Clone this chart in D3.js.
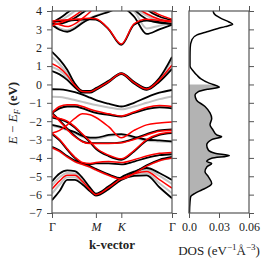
<!DOCTYPE html>
<html>
<head>
<meta charset="utf-8">
<script src="https://cdn.jsdelivr.net/npm/d3@7"></script>
<style>
  body { margin: 0; background: #fff; }
  svg text { font-family: "Liberation Serif", "Times New Roman", serif; fill: #222; }
</style>
</head>
<body>
<svg id="chart" width="274" height="264"></svg>
<script>
// k-path samples (Γ-M-K-Γ, hexagonal path lengths)
var kSamples = [0, 0.1, 0.2, 0.3, 0.4, 0.5, 0.577, 0.744, 0.911, 1.078, 1.244, 1.411, 1.577];
var kTicks = [0, 0.577, 0.911, 1.577];
var kLabels = ["Γ", "M", "K", "Γ"];
var energyTicks = [-7, -6, -5, -4, -3, -2, -1, 0, 1, 2, 3, 4];
var dosTicks = [0, 0.03, 0.06];
var dosTickLabels = ["0.0", "0.03", "0.06"];

// band energies (eV) at kSamples
var grayBands = [
  [3.30, 3.45, 3.70, 4.00, 4.30, 4.60, 4.80, 5.0, 5.0, 5.0, 5.0, 5.0, 5.0],
  [3.28, 3.05, 2.95, 3.12, 3.42, 3.62, 3.75, 4.0, 4.3, 4.0, 3.05, 3.20, 3.35],
  [5.0, 5.0, 5.0, 5.0, 5.0, 5.0, 5.0, 5.0, 5.0, 4.20, 3.75, 3.45, 3.40],
  [1.50, 1.10, 0.60, 0.00, -0.35, -0.38, -0.22, 0.18, 0.60, 0.12, -0.22, 0.30, 1.35],
  [0.95, 0.75, 0.40, -0.10, -0.42, -0.42, -0.27, 0.15, 0.58, 0.08, -0.27, 0.22, 1.00],
  [-0.67, -0.68, -0.75, -0.85, -0.95, -1.05, -1.12, -1.25, -1.35, -1.20, -1.00, -0.80, -0.65],
  [-1.50, -1.25, -1.15, -1.15, -1.25, -1.40, -1.50, -1.62, -1.73, -1.52, -1.30, -1.20, -1.25],
  [-2.25, -2.35, -2.50, -2.65, -2.85, -2.95, -2.95, -2.80, -2.75, -2.90, -3.05, -3.10, -3.15],
  [-3.45, -3.65, -3.95, -4.20, -4.35, -4.50, -4.65, -4.95, -5.12, -4.85, -4.45, -4.15, -4.00],
  [-5.50, -5.05, -4.82, -4.85, -5.20, -5.70, -5.97, -5.58, -5.10, -4.80, -4.65, -4.98, -5.42],
  [-5.95, -5.45, -5.05, -5.05, -5.35, -5.78, -6.02, -5.65, -5.15, -4.90, -4.83, -5.38, -5.92]
];
var blackBands = [
  [3.40, 3.45, 3.47, 3.50, 3.53, 3.55, 3.53, 3.00, 2.15, 3.25, 3.48, 3.40, 3.30],
  [3.25, 2.98, 2.87, 3.05, 3.35, 3.58, 3.72, 3.95, 4.2, 3.70, 2.75, 3.00, 3.25],
  [3.35, 3.60, 3.90, 4.20, 4.50, 4.80, 5.0, 5.0, 5.0, 5.0, 5.0, 5.0, 5.0],
  [3.30, 3.30, 3.42, 3.62, 3.90, 4.20, 4.50, 5.0, 5.0, 5.0, 5.0, 5.0, 5.0],
  [5.0, 5.0, 5.0, 5.0, 5.0, 5.0, 5.0, 5.0, 5.0, 4.10, 3.55, 3.35, 3.30],
  [5.0, 5.0, 5.0, 5.0, 5.0, 5.0, 5.0, 5.0, 5.0, 5.0, 4.10, 3.70, 3.50],
  [1.78, 1.35, 0.80, 0.05, -0.35, -0.35, -0.20, 0.20, 0.62, 0.15, -0.20, 0.35, 1.50],
  [0.73, 0.55, 0.25, -0.15, -0.45, -0.45, -0.30, 0.12, 0.56, 0.05, -0.30, 0.15, 0.85],
  [-0.26, -0.27, -0.32, -0.42, -0.55, -0.72, -0.85, -1.05, -1.20, -1.00, -0.70, -0.45, -0.30],
  [-1.55, -1.30, -1.20, -1.20, -1.30, -1.45, -1.55, -1.65, -1.75, -1.55, -1.35, -1.25, -1.30],
  [-1.55, -1.95, -2.40, -2.80, -3.10, -3.20, -3.20, -3.20, -3.15, -2.95, -2.70, -2.50, -2.45],
  [-2.70, -3.05, -3.55, -4.00, -4.30, -4.35, -4.30, -4.30, -4.35, -4.20, -4.00, -3.85, -3.80],
  [-1.80, -1.90, -2.05, -2.35, -2.75, -3.15, -3.50, -3.90, -4.10, -3.65, -3.05, -2.75, -2.65],
  [-2.20, -2.30, -2.45, -2.60, -2.80, -2.90, -2.90, -2.75, -2.70, -2.85, -3.00, -3.05, -3.10],
  [-3.40, -3.60, -3.90, -4.15, -4.30, -4.45, -4.60, -4.90, -5.10, -4.80, -4.40, -4.10, -3.95],
  [-5.28, -4.85, -4.68, -4.72, -5.08, -5.62, -5.95, -5.55, -5.05, -4.75, -4.55, -4.82, -5.20],
  [-6.30, -5.80, -5.20, -5.20, -5.45, -5.82, -6.05, -5.70, -5.20, -4.98, -4.95, -5.60, -6.20]
];
var redBands = [
  [3.45, 3.50, 3.52, 3.55, 3.58, 3.60, 3.58, 3.02, 2.20, 3.30, 3.55, 3.48, 3.40],
  [3.20, 3.35, 3.50, 3.75, 4.05, 4.40, 4.70, 5.0, 5.0, 5.0, 5.0, 5.0, 5.0],
  [3.40, 3.25, 3.15, 3.30, 3.60, 3.95, 4.30, 5.0, 5.0, 5.0, 5.0, 5.0, 5.0],
  [5.0, 5.0, 5.0, 5.0, 5.0, 5.0, 5.0, 5.0, 5.0, 4.30, 3.85, 3.55, 3.45],
  [5.0, 5.0, 5.0, 5.0, 5.0, 5.0, 5.0, 5.0, 5.0, 5.0, 4.20, 3.80, 3.55],
  [1.13, 0.90, 0.50, -0.05, -0.38, -0.40, -0.25, 0.15, 0.60, 0.10, -0.25, 0.25, 1.06],
  [-1.55, -1.20, -1.10, -1.10, -1.20, -1.35, -1.45, -1.60, -1.72, -1.50, -1.25, -1.15, -1.20],
  [-1.60, -2.00, -2.45, -2.85, -3.12, -3.22, -3.22, -3.22, -3.18, -3.00, -2.75, -2.55, -2.50],
  [-2.65, -2.50, -2.20, -1.85, -1.60, -1.65, -1.80, -2.30, -2.90, -2.50, -2.20, -2.10, -2.05],
  [-2.65, -3.00, -3.50, -3.95, -4.25, -4.30, -4.25, -4.20, -4.25, -4.10, -3.90, -3.75, -3.70],
  [-1.75, -1.85, -2.00, -2.30, -2.70, -3.10, -3.45, -3.85, -4.05, -3.60, -3.00, -2.70, -2.60],
  [-3.45, -3.65, -3.95, -4.20, -4.35, -4.50, -4.65, -4.95, -5.15, -4.85, -4.45, -4.15, -4.00],
  [-5.70, -5.25, -4.95, -4.95, -5.28, -5.74, -6.00, -5.62, -5.13, -4.87, -4.74, -5.18, -5.65]
];

// density of states (energy in eV, DOS in 1/(eV Å^3))
var dosEnergy = [4.0, 3.8, 3.6, 3.4, 3.28, 3.15, 3.05, 2.87, 2.7, 2.45, 2.0, 1.5, 1.0, 0.75, 0.5, 0.3, 0.1, 0.0,
  -0.15, -0.26, -0.4, -0.58, -0.85, -1.2, -1.55, -1.85, -2.2, -2.48, -2.75, -2.85, -3.0, -3.3, -3.57, -3.75,
  -3.88, -4.02, -4.2, -4.3, -4.48, -4.75, -5.02, -5.39, -5.57, -5.75, -5.93, -6.1, -6.4, -7.0];
var dosValue = [0.024, 0.026, 0.032, 0.040, 0.0437, 0.036, 0.029, 0.018, 0.008, 0.003, 0.0012, 0.001, 0.001, 0.004, 0.008, 0.012, 0.019, 0.024,
  0.0303, 0.019, 0.009, 0.006, 0.0075, 0.016, 0.021, 0.0227, 0.021, 0.024, 0.0277, 0.0327, 0.0227, 0.0177, 0.0193, 0.026,
  0.0403, 0.0227, 0.0177, 0.0227, 0.018, 0.016, 0.0193, 0.0227, 0.0193, 0.0127, 0.006, 0.0017, 0.001, 0.0005];

var svg = d3.select("#chart");
var plotTop = 11, plotBottom = 213;
var band = {left: 52, right: 172};
var dos = {left: 189, right: 249};
var spine = "#555";
var serif = "Liberation Serif";

var y = d3.scaleLinear().domain([-7, 4]).range([plotBottom, plotTop]);
var xK = d3.scaleLinear().domain([0, 1.577]).range([band.left, band.right]);
var xD = d3.scaleLinear().domain([0, 0.06]).range([dos.left, dos.right]);

svg.append("clipPath").attr("id", "bandclip").append("rect")
  .attr("x", band.left).attr("y", plotTop).attr("width", band.right - band.left).attr("height", plotBottom - plotTop);

var bandLine = d3.line()
  .x(function(d, i) { return xK(kSamples[i]); })
  .y(function(d) { return y(d); })
  .curve(d3.curveMonotoneX);

var bands = svg.append("g").attr("clip-path", "url(#bandclip)");
function drawBands(list, color, w) {
  bands.append("g").selectAll("path").data(list).enter().append("path")
    .attr("d", bandLine).attr("fill", "none")
    .attr("stroke", color).attr("stroke-width", w);
}
drawBands(grayBands, "#c2c2c2", 2);
drawBands(blackBands, "#000", 1.8);
drawBands(redBands, "#f00", 1.5);

// DOS
var dosPts = dosEnergy.map(function(e, i) { return [e, dosValue[i]]; });
var occ = dosPts.filter(function(d) { return d[0] <= 0; });
svg.append("path")
  .attr("d", d3.area().y(function(d) { return y(d[0]); })
    .x0(xD(0)).x1(function(d) { return xD(d[1]); })
    .curve(d3.curveMonotoneY)(occ))
  .attr("fill", "#b3b3b3");
svg.append("path")
  .attr("d", d3.line().y(function(d) { return y(d[0]); })
    .x(function(d) { return xD(d[1]); })
    .curve(d3.curveMonotoneY)(dosPts))
  .attr("fill", "none").attr("stroke", "#000").attr("stroke-width", 1.5);

// axes
function styleAxis(g) {
  g.select(".domain").remove();
  g.selectAll(".tick line").attr("stroke", spine);
  g.selectAll(".tick text").attr("font-family", serif).attr("font-size", 12).attr("fill", "#222");
}
svg.append("g").attr("transform", "translate(" + band.left + ",0)")
  .call(d3.axisLeft(y).tickValues(energyTicks).tickSize(5).tickPadding(5).tickFormat(d3.format("d")))
  .call(styleAxis);
svg.append("g").attr("transform", "translate(" + band.right + ",0)")
  .call(d3.axisRight(y).tickValues(energyTicks).tickSize(5).tickFormat(""))
  .call(styleAxis);
svg.append("g").attr("transform", "translate(" + dos.right + ",0)")
  .call(d3.axisRight(y).tickValues(energyTicks).tickSize(5).tickFormat(""))
  .call(styleAxis);

svg.append("g").attr("transform", "translate(0," + plotBottom + ")")
  .call(d3.axisBottom(xK).tickValues(kTicks).tickSize(5).tickPadding(4)
    .tickFormat(function(d, i) { return kLabels[i]; }))
  .call(styleAxis)
  .selectAll(".tick text").attr("font-style", function(d, i) { return (i == 1 || i == 2) ? "italic" : "normal"; });
svg.append("g").attr("transform", "translate(0," + plotTop + ")")
  .call(d3.axisTop(xK).tickValues(kTicks).tickSize(5).tickFormat(""))
  .call(styleAxis);
svg.append("g").attr("transform", "translate(0," + plotBottom + ")")
  .call(d3.axisBottom(xD).tickValues(dosTicks).tickSize(5).tickPadding(4)
    .tickFormat(function(d, i) { return dosTickLabels[i]; }))
  .call(styleAxis);
svg.append("g").attr("transform", "translate(0," + plotTop + ")")
  .call(d3.axisTop(xD).tickValues(dosTicks).tickSize(5).tickFormat(""))
  .call(styleAxis);

// spines
[band, dos].forEach(function(p) {
  svg.append("rect").attr("x", p.left).attr("y", plotTop)
    .attr("width", p.right - p.left).attr("height", plotBottom - plotTop)
    .attr("fill", "none").attr("stroke", spine).attr("stroke-width", 1.2);
});

// labels
svg.append("text").attr("x", 112).attr("y", 249).attr("text-anchor", "middle")
  .attr("font-family", serif).attr("font-size", 13).attr("font-weight", "bold").text("k-vector");

var dl = svg.append("text").attr("x", 219).attr("y", 255).attr("text-anchor", "middle")
  .attr("font-family", serif).attr("font-size", 13);
dl.append("tspan").text("DOS (eV");
dl.append("tspan").attr("dy", -5).attr("font-size", 9).text("−1");
dl.append("tspan").attr("dy", 5).text("Å");
dl.append("tspan").attr("dy", -5).attr("font-size", 9).text("−3");
dl.append("tspan").attr("dy", 5).text(")");

var yl = svg.append("text").attr("transform", "translate(17,113) rotate(-90)")
  .attr("text-anchor", "middle").attr("font-family", serif).attr("font-size", 13);
yl.append("tspan").attr("font-style", "italic").text("E");
yl.append("tspan").text(" − ");
yl.append("tspan").attr("font-style", "italic").text("E");
yl.append("tspan").attr("font-style", "italic").attr("font-size", 9).attr("dy", 3).text("F");
yl.append("tspan").attr("dy", -3).attr("font-weight", "bold").text(" (eV)");
</script>
</body>
</html>
